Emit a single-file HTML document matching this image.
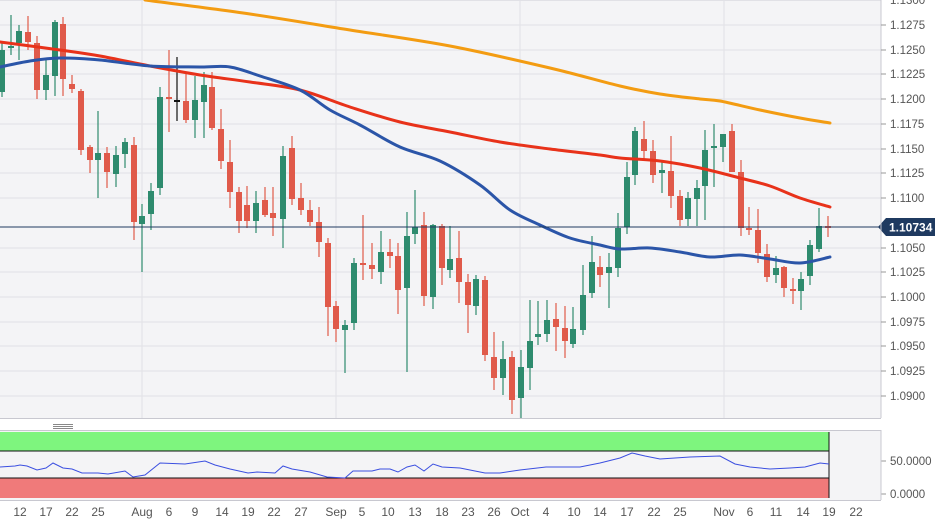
<!DOCTYPE html>
<html><head><meta charset="utf-8"><style>
html,body{margin:0;padding:0;background:#fff;width:943px;height:527px;overflow:hidden}
svg{display:block;font-family:"Liberation Sans",sans-serif}
</style></head><body>
<svg id="s" width="943" height="527" viewBox="0 0 943 527" xmlns="http://www.w3.org/2000/svg">
<rect x="0" y="0" width="881" height="420" fill="#f4f4f6"/>
<g stroke="#e1e1e6" stroke-width="1">
<line x1="0" y1="0.5" x2="881" y2="0.5"/><line x1="0" y1="25" x2="881" y2="25"/><line x1="0" y1="50" x2="881" y2="50"/><line x1="0" y1="74" x2="881" y2="74"/><line x1="0" y1="99" x2="881" y2="99"/><line x1="0" y1="124" x2="881" y2="124"/><line x1="0" y1="149" x2="881" y2="149"/><line x1="0" y1="173" x2="881" y2="173"/><line x1="0" y1="198" x2="881" y2="198"/><line x1="0" y1="248" x2="881" y2="248"/><line x1="0" y1="272" x2="881" y2="272"/><line x1="0" y1="297" x2="881" y2="297"/><line x1="0" y1="322" x2="881" y2="322"/><line x1="0" y1="346" x2="881" y2="346"/><line x1="0" y1="371" x2="881" y2="371"/><line x1="0" y1="396" x2="881" y2="396"/>
<line x1="142" y1="0" x2="142" y2="500"/><line x1="336" y1="0" x2="336" y2="500"/><line x1="520" y1="0" x2="520" y2="500"/><line x1="724" y1="0" x2="724" y2="500"/>
</g>
<g id="c"></g>
<g fill="none" stroke-width="3" stroke-linejoin="round" stroke-linecap="round">
<path class="sm" stroke="#f39c12" data-p="145,0 250,14 350,30 450,46 550,68 620,86 660,94 700,99 720,101 760,110 800,118 830,123"/>
<path class="sm" stroke="#e8321a" data-p="0,42 60,50 100,56 150,66 200,75 250,82 300,90 350,107 400,122 450,132 500,142 550,149 600,155 620,158 660,161 700,168 740,178 770,186 800,198 830,207"/>
<path class="sm" stroke="#2b55a8" data-p="0,67 30,61 60,58 100,60 150,66 200,67 230,67 260,76 300,90 330,110 360,125 400,147 440,161 480,185 510,210 540,225 570,238 600,245 620,249 650,248 680,252 710,257 740,255 770,259 800,263 830,257"/>
</g>
<line x1="0" y1="227" x2="881" y2="227" stroke="#1f3a60" stroke-width="1"/>
<polygon points="878,227 886,218 935,218 935,236 886,236" fill="#1f3a60"/>
<text x="889" y="231.5" font-size="12" font-weight="bold" fill="#fff">1.10734</text>
<line x1="881" y1="0" x2="881" y2="418" stroke="#c8c8d0"/>
<g font-size="11.5" fill="#555">
<text x="890" y="29">1.1275</text><text x="890" y="54">1.1250</text><text x="890" y="78">1.1225</text><text x="890" y="103">1.1200</text><text x="890" y="128">1.1175</text><text x="890" y="153">1.1150</text><text x="890" y="177">1.1125</text><text x="890" y="202">1.1100</text><text x="890" y="252">1.1050</text><text x="890" y="276">1.1025</text><text x="890" y="301">1.1000</text><text x="890" y="326">1.0975</text><text x="890" y="350">1.0950</text><text x="890" y="375">1.0925</text><text x="890" y="400">1.0900</text><text x="890" y="4">1.1300</text>
</g>
<g stroke="#999"><line x1="881" y1="25" x2="886" y2="25"/><line x1="881" y1="50" x2="886" y2="50"/><line x1="881" y1="74" x2="886" y2="74"/><line x1="881" y1="99" x2="886" y2="99"/><line x1="881" y1="124" x2="886" y2="124"/><line x1="881" y1="149" x2="886" y2="149"/><line x1="881" y1="173" x2="886" y2="173"/><line x1="881" y1="198" x2="886" y2="198"/><line x1="881" y1="248" x2="886" y2="248"/><line x1="881" y1="272" x2="886" y2="272"/><line x1="881" y1="297" x2="886" y2="297"/><line x1="881" y1="322" x2="886" y2="322"/><line x1="881" y1="346" x2="886" y2="346"/><line x1="881" y1="371" x2="886" y2="371"/><line x1="881" y1="396" x2="886" y2="396"/><line x1="881" y1="461" x2="886" y2="461"/><line x1="881" y1="494" x2="886" y2="494"/></g>
<line x1="0" y1="418.5" x2="881" y2="418.5" stroke="#c8c8d0"/>
<rect x="0" y="419" width="881" height="11" fill="#fff"/>
<g stroke="#888"><line x1="53" y1="424.5" x2="73" y2="424.5"/><line x1="53" y1="426.5" x2="73" y2="426.5"/><line x1="53" y1="428.5" x2="73" y2="428.5"/></g>
<line x1="0" y1="430.5" x2="881" y2="430.5" stroke="#c8c8d0"/>
<rect x="0" y="431" width="881" height="69" fill="#f4f4f6"/>
<rect x="0" y="432" width="829" height="19" fill="#7ef57e"/>
<rect x="0" y="478" width="829" height="20" fill="#f07a7a"/>
<line x1="0" y1="451" x2="829" y2="451" stroke="#111"/>
<line x1="0" y1="478" x2="829" y2="478" stroke="#111"/>
<line x1="829" y1="432" x2="829" y2="498" stroke="#111"/>
<polyline fill="none" stroke="#3b4fe0" stroke-width="1" points="0,467 15,466 20,465 27,466 37,470 46,468 53,463 63,468 72,469 82,473 98,473 108,474 125,471 133,477 145,475 160,463 185,464 205,461 215,465 230,469 248,473 257,472 275,473 283,466 292,469 310,472 327,477 345,478 353,471 372,471 380,469 390,469 398,472 407,467 415,465 424,471 433,464 442,467 460,468 470,470 485,473 500,473 520,470 546,467 580,467 600,463 620,458 632,453 645,456 660,459 690,457 720,456 735,464 750,467 770,469 790,468 805,467 820,463 829,464"/>
<line x1="881" y1="430" x2="881" y2="500" stroke="#c8c8d0"/>
<line x1="0" y1="500.5" x2="881" y2="500.5" stroke="#c8c8d0"/>
<g font-size="11.5" fill="#555"><text x="890" y="465">50.0000</text><text x="890" y="498">0.0000</text></g>
<g font-size="12" fill="#555" text-anchor="middle">
<text x="20" y="516">12</text><text x="46" y="516">17</text><text x="72" y="516">22</text><text x="98" y="516">25</text><text x="142" y="516">Aug</text><text x="169" y="516">6</text><text x="195" y="516">9</text><text x="222" y="516">14</text><text x="248" y="516">19</text><text x="274" y="516">22</text><text x="301" y="516">27</text><text x="336" y="516">Sep</text><text x="362" y="516">5</text><text x="388" y="516">10</text><text x="415" y="516">13</text><text x="442" y="516">18</text><text x="468" y="516">23</text><text x="494" y="516">26</text><text x="520" y="516">Oct</text><text x="546" y="516">4</text><text x="574" y="516">10</text><text x="600" y="516">14</text><text x="627" y="516">17</text><text x="654" y="516">22</text><text x="680" y="516">25</text><text x="724" y="516">Nov</text><text x="750" y="516">6</text><text x="776" y="516">11</text><text x="803" y="516">14</text><text x="829" y="516">19</text><text x="856" y="516">22</text>
</g>
</svg>
<script>
var d=[
[2,'g',50,92,42,97],[11,'g',46,48,15,55],[19,'g',31,43,25,60],[28,'r',32,42,16,50],[37,'r',43,90,36,99],[46,'g',75,90,60,100],[55,'g',22,76,20,96],[63,'r',24,79,17,96],[72,'r',84,89,75,93],[81,'r',91,150,89,155],[90,'r',147,160,145,173],[98,'g',153,160,111,198],[107,'r',153,172,147,188],[116,'g',155,174,146,187],[125,'g',142,154,138,168],[134,'r',145,222,137,240],[142,'g',216,224,204,272],[151,'g',191,214,183,230],[160,'g',97,188,87,195],[169,'r',97,99,50,132],[177,'k',100,101,57,121],[186,'r',101,120,72,123],[195,'g',100,120,76,138],[204,'g',85,102,72,138],[212,'r',87,128,72,130],[221,'r',129,161,109,169],[230,'r',162,192,140,208],[239,'r',192,221,187,233],[247,'r',205,221,186,228],[256,'g',203,221,191,233],[265,'r',200,215,187,217],[273,'r',213,218,187,236],[283,'g',156,219,146,248],[292,'r',148,199,136,205],[301,'r',198,210,183,215],[310,'r',210,222,200,226],[319,'r',222,242,207,257],[328,'r',243,307,238,336],[336,'r',306,329,301,342],[345,'g',325,330,320,373],[354,'g',263,323,258,330],[363,'r',263,265,215,280],[372,'r',265,269,243,279],[381,'g',252,272,231,284],[390,'r',252,256,239,268],[398,'r',256,290,243,314],[407,'g',236,288,212,372],[415,'g',227,234,190,244],[424,'r',225,296,212,306],[433,'g',225,297,224,309],[442,'r',226,268,224,285],[450,'g',259,270,226,278],[459,'r',258,282,231,303],[468,'r',282,305,274,333],[476,'g',279,306,275,315],[485,'r',280,355,276,361],[494,'r',357,378,332,390],[503,'g',359,378,341,395],[512,'r',357,400,351,414],[521,'g',367,398,350,420],[530,'g',341,368,300,390],[538,'g',334,337,301,345],[547,'g',320,334,300,342],[556,'r',319,327,303,351],[565,'r',328,341,306,358],[573,'g',329,344,307,348],[583,'g',295,330,265,335],[592,'g',262,293,236,298],[600,'r',267,275,256,287],[609,'g',267,273,253,308],[618,'g',228,268,213,277],[627,'g',177,227,162,234],[635,'g',131,175,127,185],[644,'r',139,151,121,161],[653,'r',151,175,140,183],[662,'g',170,173,160,193],[671,'r',171,196,136,208],[680,'r',196,220,190,226],[688,'g',198,219,192,226],[697,'g',188,199,180,226],[705,'g',150,186,130,220],[714,'g',146,148,124,187],[723,'g',134,147,134,162],[732,'r',131,172,124,172],[741,'r',172,228,160,236],[749,'r',228,230,207,235],[758,'r',230,253,209,263],[767,'r',254,277,244,282],[776,'g',268,275,256,283],[784,'r',267,288,266,297],[793,'r',289,291,278,304],[801,'g',279,291,272,310],[810,'g',245,276,240,285],[819,'g',226,249,208,252],[828,'r',226,227,216,237]];
var col={g:'#2e8b6e',r:'#e05a4a',k:'#111'},h='';
d.forEach(function(c){var f=col[c[1]];h+='<line x1="'+c[0]+'" y1="'+c[4]+'" x2="'+c[0]+'" y2="'+c[5]+'" stroke="'+f+'" stroke-width="1.2"/>';var hh=Math.max(c[3]-c[2],2);h+='<rect x="'+(c[0]-3)+'" y="'+c[2]+'" width="6" height="'+hh+'" fill="'+f+'"/>';});
document.getElementById('c').innerHTML=h;
document.querySelectorAll('path.sm').forEach(function(el){
var p=el.getAttribute('data-p').split(' ').map(function(s){return s.split(',').map(Number);});
var s='M'+p[0][0]+','+p[0][1];
for(var i=0;i<p.length-1;i++){var a=p[i-1]||p[i],b=p[i],c=p[i+1],e=p[i+2]||c;
s+=' C'+(b[0]+(c[0]-a[0])/6)+','+(b[1]+(c[1]-a[1])/6)+' '+(c[0]-(e[0]-b[0])/6)+','+(c[1]-(e[1]-b[1])/6)+' '+c[0]+','+c[1];}
el.setAttribute('d',s);});
</script>
</body></html>
